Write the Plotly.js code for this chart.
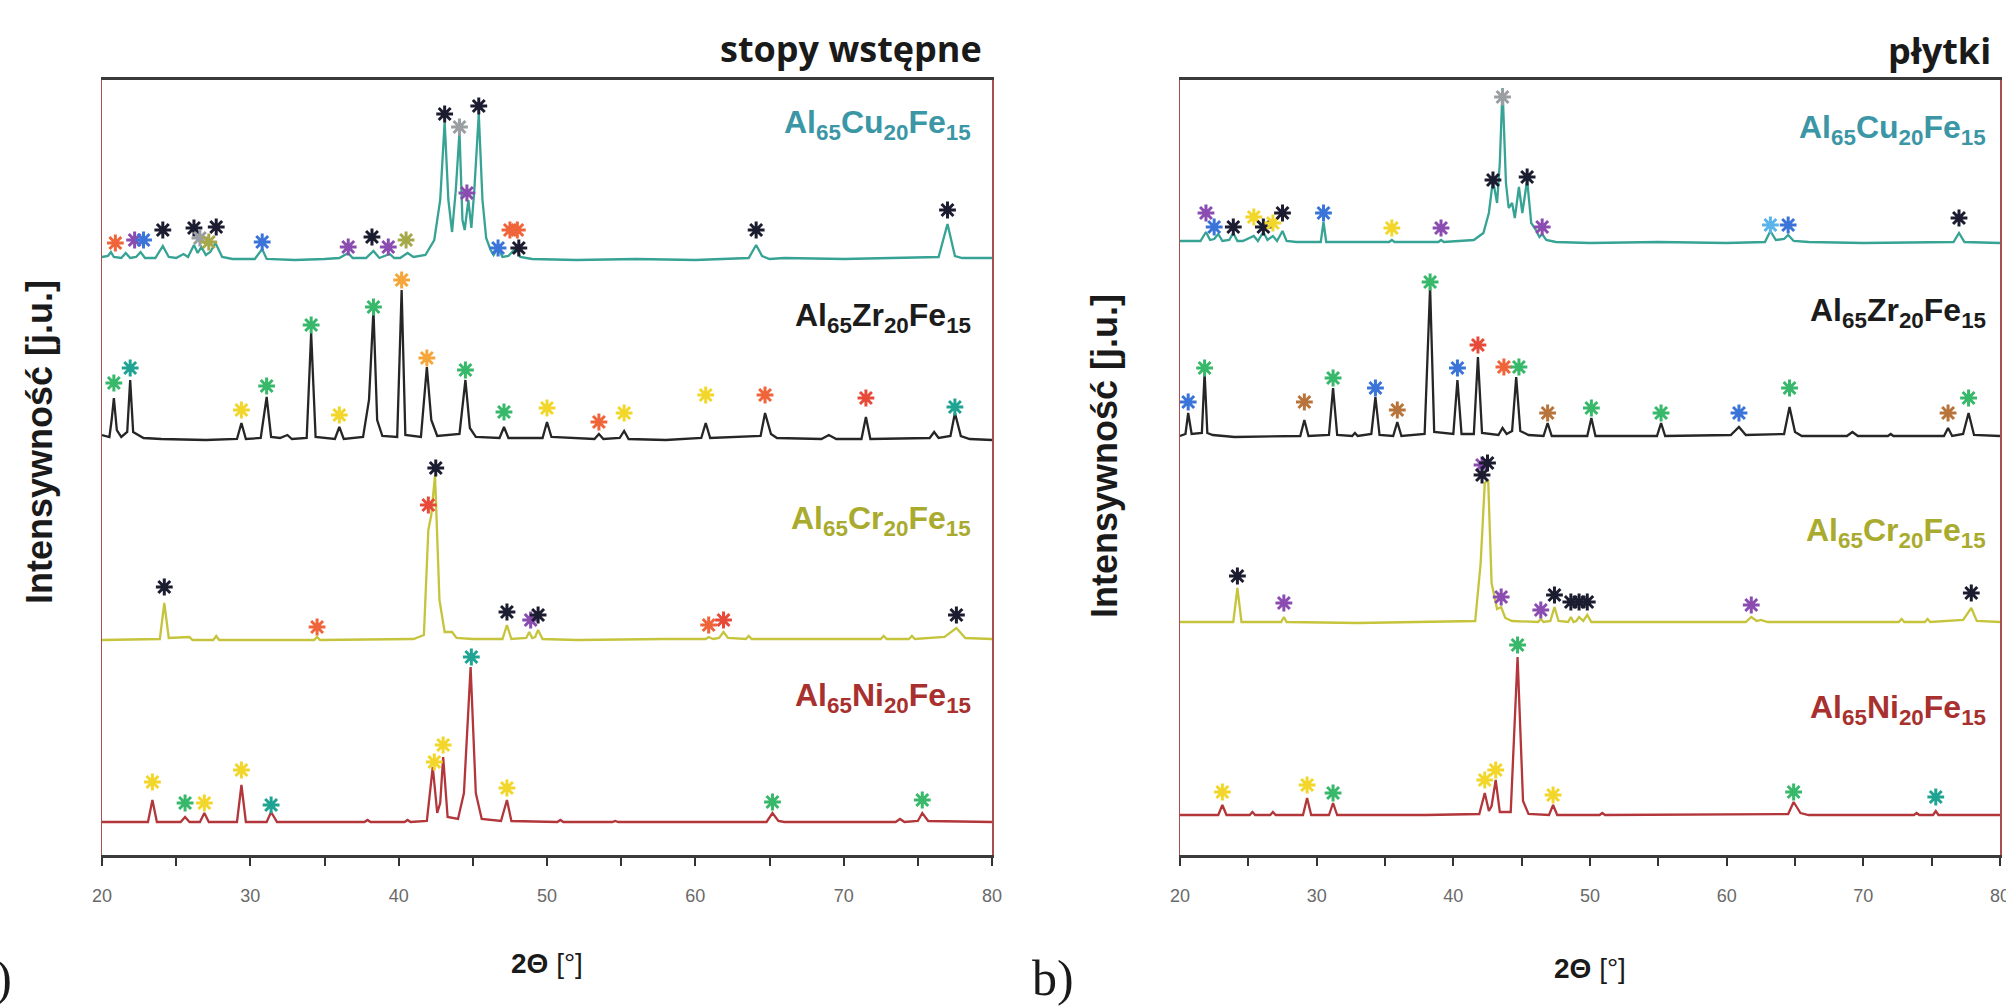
<!DOCTYPE html>
<html>
<head>
<meta charset="utf-8">
<script src="https://cdn.plot.ly/plotly-3.0.1.min.js"></script>
<style>
  html, body { margin: 0; padding: 0; background: #ffffff; }
  #chart { width: 2006px; height: 1008px; }
</style>
</head>
<body>
<div id="chart"></div>
<script>
// XRD patterns: [2θ (°), intensity (a.u.)] vertices of each measured curve.

// --- stopy wstępne (master alloys) ---
const cuPre = [[20.0,3],[20.4,4],[20.6,8],[20.8,3],[21.3,2],[21.6,7],[21.9,2],[22.3,3],[22.6,8],[22.9,2],[23.6,2],[24.1,14],[24.5,3],[25.0,2],[25.5,6],[25.8,3],[26.2,15],[26.45,7],[26.7,13],[27.0,5],[27.3,8],[27.65,17],[28.1,3],[28.8,1],[30.3,1],[30.8,11],[31.1,1],[33,0],[35,1],[36.0,2],[36.6,7],[36.9,2],[37.8,2],[38.3,9],[38.7,2],[39.4,6],[39.7,2],[40.1,2],[40.6,7],[41.0,3],[41.8,5],[42.4,20],[42.8,60],[43.1,138],[43.35,60],[43.6,28],[43.85,70],[44.1,128],[44.3,40],[44.45,30],[44.7,60],[44.9,32],[45.1,70],[45.4,146],[45.65,60],[45.9,22],[46.2,10],[46.4,5],[46.7,12],[47.0,3],[47.4,4],[47.9,12],[48.2,3],[49,1],[52,0],[56,1],[60,0],[63.6,2],[64.1,15],[64.5,4],[65,1],[66,2],[70,1],[74,2],[76.4,3],[77.0,36],[77.5,4],[78,2],[80,2]];
const zrPre = [[20.0,5],[20.5,3],[20.65,20],[20.8,42],[21.0,10],[21.3,3],[21.7,8],[21.9,60],[22.1,8],[22.5,5],[22.8,2],[24,1],[27,0],[29.1,1],[29.4,17],[29.7,1],[30.7,2],[31.1,43],[31.4,3],[32.0,2],[32.5,5],[32.8,1],[33.8,2],[34.1,107],[34.4,3],[35.7,1],[36.0,13],[36.3,1],[37.6,3],[38.0,40],[38.3,130],[38.55,20],[38.9,4],[39.9,3],[40.2,150],[40.45,5],[41.5,3],[41.9,73],[42.2,20],[42.6,4],[44.1,6],[44.5,60],[44.8,12],[45.2,3],[46.8,2],[47.1,13],[47.4,2],[49.7,2],[50.0,18],[50.3,3],[53.2,1],[53.5,6],[53.8,1],[54.9,2],[55.2,9],[55.5,1],[58,0],[60.4,2],[60.7,17],[61.0,2],[64.4,4],[64.7,27],[65.1,6],[65.5,2],[68.5,1],[69.0,5],[69.5,1],[71.2,1],[71.5,23],[71.8,1],[75.8,2],[76.1,8],[76.4,2],[77.2,4],[77.5,27],[77.9,4],[78.5,1],[80,0]];
const crPre = [[20,0],[23.9,1],[24.2,37],[24.5,2],[25.9,3],[26.1,0],[27.5,0],[27.7,4],[27.9,0],[32,0],[34.3,0],[34.5,3],[34.7,0],[41.0,1],[41.7,5],[42.0,110],[42.2,125],[42.45,165],[42.75,40],[43.1,8],[43.6,8],[43.9,2],[45,1],[47.0,1],[47.3,15],[47.6,1],[48.6,2],[48.8,8],[49.0,2],[49.2,3],[49.4,10],[49.7,1],[52,0],[58,1],[60.7,1],[60.9,3],[61.2,1],[61.6,2],[61.9,8],[62.2,2],[63.4,1],[63.6,4],[63.8,1],[70,1],[72.5,1],[72.7,4],[72.9,1],[74.4,1],[74.6,4],[74.8,1],[76.8,3],[77.6,12],[78.2,2],[80,1]];
const niPre = [[20,1],[23.1,1],[23.4,23],[23.7,1],[25.3,1],[25.6,6],[25.9,1],[26.6,1],[26.9,10],[27.2,1],[29.1,1],[29.4,38],[29.7,1],[31.1,1],[31.4,11],[31.8,1],[37.7,1],[37.9,3],[38.1,1],[40.4,1],[40.6,3],[40.8,1],[41.9,2],[42.3,56],[42.6,10],[42.8,20],[43.0,66],[43.3,6],[44.0,4],[44.4,30],[44.85,156],[45.2,30],[45.6,4],[46.9,2],[47.3,23],[47.6,2],[50.7,1],[50.9,3],[51.1,1],[54.4,1],[54.6,2],[54.8,1],[64.8,1],[65.2,10],[65.6,2],[66,1],[73.5,1],[73.8,4],[74.1,1],[75.0,2],[75.3,10],[75.7,2],[80,1]];

// --- płytki (plates) ---
const cuPly = [[20,2],[21.5,2],[21.9,11],[22.2,3],[22.5,4],[22.8,9],[23.1,2],[23.6,3],[23.9,10],[24.2,2],[24.6,2],[25.4,7],[25.7,2],[26.1,11],[26.4,3],[26.8,7],[27.1,2],[27.5,12],[27.8,2],[28.5,1],[30.3,1],[30.5,21],[30.7,1],[32,1],[35.3,1],[35.5,3],[35.7,1],[38.9,1],[39.1,3],[39.3,1],[41.5,3],[42.2,10],[42.6,30],[42.9,63],[43.2,40],[43.4,80],[43.6,155],[43.85,60],[44.05,35],[44.3,40],[44.5,25],[44.8,56],[45.05,30],[45.4,63],[45.7,20],[46.0,14],[46.3,6],[46.5,9],[46.8,3],[47.5,1],[50,0],[55,1],[60,0],[62.8,1],[63.2,12],[63.6,3],[64.2,4],[64.5,8],[64.9,2],[66,1],[70,0],[76.6,1],[77.0,10],[77.4,1],[80,0]];
const zrPly = [[20,1],[20.4,3],[20.6,24],[20.85,3],[21.6,4],[21.8,64],[22.0,4],[22.4,2],[24,0],[28.8,1],[29.1,17],[29.4,1],[30.9,2],[31.2,49],[31.5,2],[32.6,1],[32.8,4],[33.0,1],[34.0,3],[34.3,40],[34.6,2],[35.6,1],[35.9,15],[36.2,1],[37.9,3],[38.3,150],[38.6,5],[40.0,3],[40.3,57],[40.6,3],[41.5,3],[41.8,80],[42.1,4],[43.3,2],[43.6,9],[43.9,3],[44.3,6],[44.6,60],[44.9,6],[45.5,2],[46.6,1],[46.9,14],[47.2,1],[49.8,1],[50.1,19],[50.4,1],[54.9,1],[55.2,14],[55.5,1],[60.3,2],[60.9,10],[61.4,2],[64.2,3],[64.6,30],[65.0,5],[65.5,1],[68.8,1],[69.2,5],[69.6,1],[71.8,1],[72.0,3],[72.2,1],[75.9,1],[76.2,9],[76.5,1],[77.3,3],[77.7,24],[78.1,2],[80,1]];
const crPly = [[20,1],[23.9,1],[24.2,35],[24.5,1],[27.4,1],[27.6,6],[27.8,1],[33,0],[41.6,2],[42.0,60],[42.3,140],[42.55,143],[42.8,40],[43.2,14],[43.5,16],[43.8,5],[44.3,2],[46.2,1],[46.4,4],[46.6,1],[47.1,2],[47.4,16],[47.7,2],[48.4,1],[48.6,6],[48.8,1],[49.0,2],[49.2,6],[49.5,2],[49.8,8],[50.1,1],[55,1],[61.4,1],[61.8,6],[62.2,2],[62.5,3],[63,1],[68,1],[72.6,1],[72.8,4],[73.0,1],[74.5,1],[74.7,4],[74.9,1],[77.3,3],[77.9,15],[78.3,2],[80,1]];
const niPly = [[20,1],[22.8,1],[23.1,11],[23.4,1],[25.1,1],[25.3,4],[25.5,1],[26.6,1],[26.8,4],[27.0,1],[29.0,1],[29.3,18],[29.6,1],[30.9,1],[31.2,13],[31.5,1],[38,1],[41.9,2],[42.3,23],[42.6,5],[42.8,10],[43.1,36],[43.4,4],[44.2,4],[44.7,159],[45.1,15],[45.5,2],[47.0,1],[47.3,11],[47.6,1],[50.7,1],[50.9,3],[51.1,1],[64.5,2],[64.9,14],[65.4,3],[66,1],[73.7,1],[73.9,3],[74.1,1],[75.1,1],[75.3,5],[75.5,1],[80,1]];

// Phase markers (asterisks): [2θ, intensity, phase]
const cuPreStars = [[20.9,17,'o'],[22.2,20,'p'],[22.8,20,'b'],[24.1,30,'k'],[26.2,32,'k'],[26.6,22,'s'],[27.2,18,'v'],[27.7,33,'k'],[30.8,18,'b'],[36.6,13,'p'],[38.2,23,'k'],[39.3,13,'p'],[40.5,20,'v'],[43.1,146,'k'],[44.1,133,'s'],[44.6,67,'p'],[45.4,154,'k'],[46.7,12,'b'],[47.5,30,'o'],[48.0,30,'o'],[48.1,12,'k'],[64.1,30,'k'],[77.0,50,'k']];
const zrPreStars = [[20.8,57,'g'],[21.9,72,'t'],[29.4,30,'y'],[31.1,54,'g'],[34.1,115,'g'],[36.0,25,'y'],[38.3,133,'g'],[40.2,160,'a'],[41.9,82,'a'],[44.5,70,'g'],[47.1,28,'g'],[50.0,32,'y'],[53.5,18,'o'],[55.2,27,'y'],[60.7,45,'y'],[64.7,45,'o'],[71.5,42,'r'],[77.5,33,'t']];
const crPreStars = [[24.2,53,'k'],[34.5,13,'o'],[42.0,135,'r'],[42.5,172,'k'],[47.3,28,'k'],[48.9,20,'p'],[49.4,25,'k'],[60.9,15,'o'],[61.9,20,'r'],[77.6,25,'k']];
const niPreStars = [[23.4,41,'y'],[25.6,20,'g'],[26.9,20,'y'],[29.4,53,'y'],[31.4,18,'t'],[42.4,61,'y'],[43.0,78,'y'],[44.9,166,'t'],[47.3,35,'y'],[65.2,21,'g'],[75.3,23,'g']];

const cuPlyStars = [[21.9,30,'p'],[22.5,16,'b'],[23.9,16,'k'],[25.4,26,'y'],[26.1,16,'k'],[26.8,20,'y'],[27.5,30,'k'],[30.5,30,'b'],[35.5,15,'y'],[39.1,15,'p'],[42.9,63,'k'],[43.6,146,'s'],[45.4,66,'k'],[46.5,16,'p'],[63.2,18,'c'],[64.5,18,'b'],[77.0,25,'k']];
const zrPlyStars = [[20.6,35,'b'],[21.8,69,'g'],[29.1,35,'n'],[31.2,59,'g'],[34.3,49,'b'],[35.9,27,'n'],[38.3,155,'g'],[40.3,69,'b'],[41.8,92,'r'],[43.7,70,'o'],[44.8,70,'g'],[46.9,24,'n'],[50.1,29,'g'],[55.2,24,'g'],[60.9,24,'b'],[64.6,49,'g'],[76.2,24,'n'],[77.7,39,'g']];
const crPlyStars = [[24.2,47,'k'],[27.6,20,'p'],[42.1,158,'p'],[42.5,160,'k'],[42.1,148,'k'],[43.5,26,'p'],[46.4,13,'p'],[47.4,28,'k'],[48.6,21,'k'],[49.2,21,'k'],[49.8,21,'k'],[61.8,18,'p'],[77.9,30,'k']];
const niPlyStars = [[23.1,24,'y'],[29.3,31,'y'],[31.2,23,'g'],[42.3,36,'y'],[43.1,46,'y'],[44.7,171,'g'],[47.3,21,'y'],[64.9,24,'g'],[75.3,19,'t']];

const xTicks = [20, 30, 40, 50, 60, 70, 80];
const panelTitles = ['stopy wstępne', 'płytki'];
const alloyLabels = {
  cu: 'Al<sub>65</sub>Cu<sub>20</sub>Fe<sub>15</sub>',
  zr: 'Al<sub>65</sub>Zr<sub>20</sub>Fe<sub>15</sub>',
  cr: 'Al<sub>65</sub>Cr<sub>20</sub>Fe<sub>15</sub>',
  ni: 'Al<sub>65</sub>Ni<sub>20</sub>Fe<sub>15</sub>'
};
const xTitle = '<b>2Θ</b> [°]';
const yTitle = 'Intensywność [j.u.]';

// ---------------- styling ----------------
const W = 2006, H = 1008;
const fx = v => v / W;
const fy = v => 1 - v / H;

const phaseColor = {
  k: '#1c1c30', o: '#f0643a', p: '#8a4cb0', b: '#3a74d8', g: '#38b86a', t: '#1fa392',
  y: '#f2d62a', a: '#f4a63a', r: '#e84a3a', s: '#9a9ea2', v: '#a6a84a', n: '#b8743a', c: '#5ab4ea'
};
const lineColor = { cu: '#36a394', zr: '#262626', cr: '#c6c43c', ni: '#b2363a' };
const labelColor = { cu: '#3b96a6', zr: '#1c1c1c', cr: '#a9ab2e', ni: '#a8302e' };

const panels = [
  { xa: 'x', ya: 'y', data: { cu: cuPre, zr: zrPre, cr: crPre, ni: niPre },
    stars: { cu: cuPreStars, zr: zrPreStars, cr: crPreStars, ni: niPreStars },
    base: { cu: 595, zr: 415, cr: 215, ni: 32 },
    labelRight: 973, labelY: { cu: 124, zr: 317, cr: 520, ni: 697 } },
  { xa: 'x2', ya: 'y2', data: { cu: cuPly, zr: zrPly, cr: crPly, ni: niPly },
    stars: { cu: cuPlyStars, zr: zrPlyStars, cr: crPlyStars, ni: niPlyStars },
    base: { cu: 612, zr: 418, cr: 232, ni: 39 },
    labelRight: 1988, labelY: { cu: 129, zr: 312, cr: 532, ni: 709 } }
];

const traces = [];
const annotations = [];
const order = ['ni', 'cr', 'zr', 'cu'];

panels.forEach(pn => {
  order.forEach(key => {
    const pts = pn.data[key];
    const off = pn.base[key];
    traces.push({
      type: 'scatter', mode: 'lines', xaxis: pn.xa, yaxis: pn.ya,
      x: pts.map(p => p[0]), y: pts.map(p => off + p[1]),
      line: { color: lineColor[key], width: 2.3 }, hoverinfo: 'skip'
    });
  });
  order.forEach(key => {
    const st = pn.stars[key];
    const off = pn.base[key];
    traces.push({
      type: 'scatter', mode: 'markers', xaxis: pn.xa, yaxis: pn.ya,
      x: st.map(s => s[0]), y: st.map(s => off + s[1]),
      marker: { symbol: 'asterisk-open', size: 14,
                line: { width: 3, color: st.map(s => phaseColor[s[2]]) },
                color: st.map(s => phaseColor[s[2]]) },
      cliponaxis: false, hoverinfo: 'skip'
    });
    annotations.push({
      xref: 'paper', yref: 'paper', x: fx(pn.labelRight), y: fy(pn.labelY[key]),
      xanchor: 'right', yanchor: 'middle', showarrow: false,
      text: alloyLabels[key],
      font: { family: 'Liberation Sans, Arial, sans-serif', size: 32, color: labelColor[key], weight: 'bold' }
    });
  });
});

// panel headings
annotations.push({ xref: 'paper', yref: 'paper', x: fx(984), y: fy(48), xanchor: 'right', yanchor: 'middle',
  showarrow: false, text: '<b>' + panelTitles[0] + '</b>',
  font: { family: 'Open Sans, sans-serif', size: 36, color: '#1a1a1a' } });
annotations.push({ xref: 'paper', yref: 'paper', x: fx(1993), y: fy(50), xanchor: 'right', yanchor: 'middle',
  showarrow: false, text: '<b>' + panelTitles[1] + '</b>',
  font: { family: 'Open Sans, sans-serif', size: 36, color: '#1a1a1a' } });

// axis titles
[[547, 963], [1590, 968]].forEach(([x, y]) => annotations.push({
  xref: 'paper', yref: 'paper', x: fx(x), y: fy(y), xanchor: 'center', yanchor: 'middle',
  showarrow: false, text: xTitle,
  font: { family: 'Liberation Sans, Arial, sans-serif', size: 28, color: '#1a1a1a' } }));
[[39, 442], [1105, 456]].forEach(([x, y]) => annotations.push({
  xref: 'paper', yref: 'paper', x: fx(x), y: fy(y), xanchor: 'center', yanchor: 'middle',
  showarrow: false, textangle: -90, text: '<b>' + yTitle + '</b>',
  font: { family: 'Liberation Sans, Arial, sans-serif', size: 36, color: '#1a1a1a' } }));

// panel letters
annotations.push({ xref: 'paper', yref: 'paper', x: fx(14), y: fy(978), xanchor: 'right', yanchor: 'middle',
  showarrow: false, text: 'a)', font: { family: 'Liberation Serif, Times New Roman, serif', size: 50, color: '#1a1a1a' } });
annotations.push({ xref: 'paper', yref: 'paper', x: fx(1030), y: fy(978), xanchor: 'left', yanchor: 'middle',
  showarrow: false, text: 'b)', font: { family: 'Liberation Serif, Times New Roman, serif', size: 50, color: '#1a1a1a' } });

function xAxis(domain, anchor) {
  return {
    domain: domain, anchor: anchor, range: [20, 80],
    tickmode: 'array', tickvals: xTicks, ticktext: xTicks.map(String),
    ticks: 'outside', ticklen: 8, tickwidth: 2, tickcolor: '#333',
    minor: { tickmode: 'linear', tick0: 25, dtick: 10, ticks: 'outside', ticklen: 8, tickwidth: 2, tickcolor: '#333' },
    ticklabelstandoff: 14, ticklabeloverflow: 'allow',
    tickfont: { family: 'Liberation Sans, Arial, sans-serif', size: 18, color: '#6a6a6a' },
    showline: true, mirror: true, linecolor: '#3a3a3a', linewidth: 3,
    showgrid: false, zeroline: false, fixedrange: true
  };
}
function yAxis(domain, anchor) {
  return {
    domain: domain, anchor: anchor, range: [0, 775],
    showticklabels: false, ticks: '',
    showline: true, mirror: true, linecolor: '#a85050', linewidth: 1.5,
    showgrid: false, zeroline: false, fixedrange: true
  };
}

const yDom = [fy(855), fy(80)];
const layout = {
  width: W, height: H, margin: { l: 0, r: 0, t: 0, b: 0 },
  paper_bgcolor: '#ffffff', plot_bgcolor: '#ffffff', showlegend: false,
  xaxis: xAxis([fx(102), fx(992)], 'y'),
  yaxis: yAxis(yDom, 'x'),
  xaxis2: xAxis([fx(1180), fx(2000)], 'y2'),
  yaxis2: yAxis(yDom, 'x2'),
  annotations: annotations
};

Plotly.newPlot('chart', traces, layout, { staticPlot: true, displayModeBar: false });
</script>
</body>
</html>
